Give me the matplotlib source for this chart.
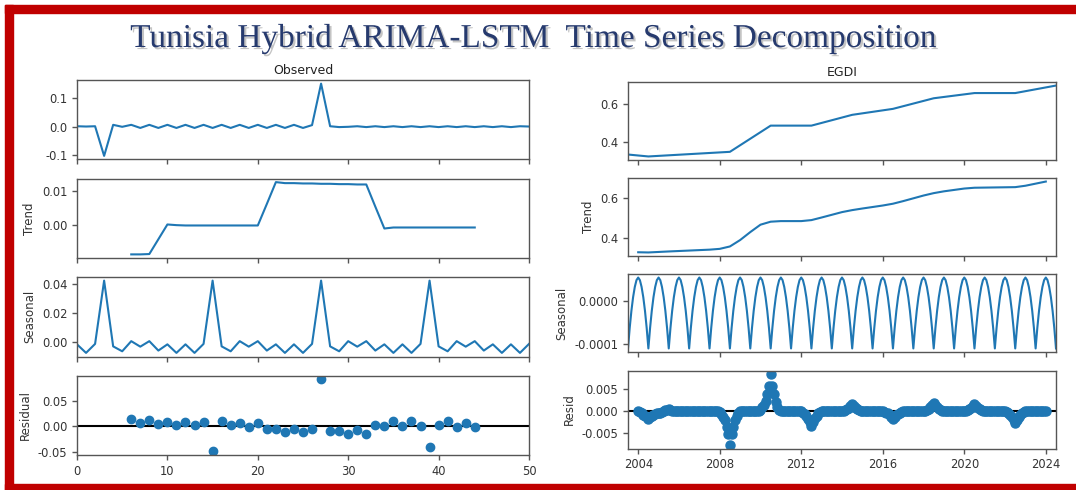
import numpy as np
import matplotlib.pyplot as plt
import matplotlib.patheffects as pe
from matplotlib.patches import Rectangle
from matplotlib.ticker import FormatStrFormatter

# ---- left: hybrid model residual series, integer index 0..50 ----
idx_l = np.arange(51)
observed_l = [0.001, 0.000, 0.001, -0.104, 0.006, -0.001, 0.006, -0.005, 0.006, -0.005,
              0.006, -0.005, 0.006, -0.005, 0.006, -0.005, 0.006, -0.005, 0.006, -0.005,
              0.006, -0.005, 0.006, -0.005, 0.006, -0.005, 0.005, 0.152, 0.001, -0.002,
              -0.001, 0.001, -0.002, 0.001, -0.002, 0.001, -0.002, 0.001, -0.002, 0.001,
              -0.002, 0.001, -0.002, 0.001, -0.002, 0.001, -0.002, 0.001, -0.002, 0.001,
              0.000]
trend_l = [np.nan] * 6 + [
    -0.0088, -0.0088, -0.0087, -0.0043, 0.0001, -0.0001, -0.0002, -0.0002, -0.0002, -0.0002,
    -0.0002, -0.0002, -0.0002, -0.0002, -0.0002, 0.0062, 0.0127, 0.0124, 0.0124, 0.0123,
    0.0123, 0.0122, 0.0122, 0.0121, 0.0121, 0.0120, 0.0120, 0.0054, -0.0011, -0.0008,
    -0.0008, -0.0008, -0.0008, -0.0008, -0.0008, -0.0008, -0.0008, -0.0008, -0.0008,
] + [np.nan] * 6
seasonal_cycle_l = [-0.0015, -0.0074, -0.0012, 0.0425, -0.0029, -0.0063,
                    0.0007, -0.0031, 0.0007, -0.0058, -0.0015, -0.0074]
resid_l = [np.nan] * 6 + [
    0.015, 0.006, 0.013, 0.004, 0.008, 0.002, 0.008, 0.002, 0.008, -0.049,
    0.010, 0.002, 0.006, -0.001, 0.006, -0.005, -0.005, -0.010, -0.005, -0.010,
    -0.005, 0.093, -0.009, -0.009, -0.014, -0.0065, -0.014, 0.003, 0.001, 0.010,
    0.001, 0.010, 0.000, -0.041, 0.002, 0.010, -0.001, 0.006, -0.001,
] + [np.nan] * 6
seasonal_l = np.resize(seasonal_cycle_l, len(idx_l))

# ---- right: monthly EGDI, Jul 2003 .. Jul 2024 ----
months_r = 2003.5 + np.arange(253) / 12
egdi_years = [2003.5, 2004.5, 2008.5, 2010.5, 2012.5, 2014.5, 2016.5, 2018.5, 2020.5, 2022.5, 2024.5]
egdi_values = [0.336, 0.326, 0.350, 0.486, 0.486, 0.542, 0.573, 0.628, 0.655, 0.655, 0.694]
trend_years = [2004.0, 2004.5, 2005.5, 2007.5, 2008.0, 2008.5, 2009.0, 2009.5, 2010.0, 2010.5,
               2011.0, 2012.0, 2012.5, 2013.0, 2014.0, 2014.5, 2015.0, 2016.0, 2016.5, 2017.0,
               2018.0, 2018.5, 2019.0, 2020.0, 2020.5, 2022.5, 2023.0, 2024.0]
trend_values = [0.329, 0.328, 0.333, 0.342, 0.346, 0.358, 0.390, 0.430, 0.467, 0.482,
                0.485, 0.485, 0.490, 0.503, 0.530, 0.540, 0.548, 0.563, 0.572, 0.585,
                0.613, 0.625, 0.634, 0.648, 0.652, 0.655, 0.662, 0.683]
# one seasonal year, July..June
seasonal_cycle_r = [-0.000110, -0.000062, -0.000022, 0.000010, 0.000034, 0.000050,
                    0.000056, 0.000050, 0.000034, 0.000010, -0.000022, -0.000062]
seasonal_r = np.resize(seasonal_cycle_r, len(months_r))

# residual is zero except around the survey years (Jan..Dec of each listed year)
resid_months = 2004 + np.arange(241) / 12
resid_event_years = [2004, 2005, 2008, 2010, 2012, 2014, 2016, 2018, 2020, 2022]
resid_event_shapes = [
    [0.0001, -0.0002, -0.0005, -0.0008, -0.0011, -0.0014, -0.0017, -0.0014, -0.0011, -0.0009, -0.0007, -0.0005],
    [-0.0004, -0.0003, -0.0001, 0.0000, 0.0002, 0.0004, 0.0005, 0.0003, 0.0001, 0.0, 0.0, 0.0],
    [-0.0002, -0.0006, -0.0012, -0.0020, -0.0035, -0.0053, -0.0077, -0.0053, -0.0035, -0.0020, -0.0010, -0.0003],
    [0.0004, 0.0009, 0.0015, 0.0024, 0.0040, 0.0058, 0.0085, 0.0058, 0.0040, 0.0021, 0.0009, 0.0002],
    [0.0, -0.0003, -0.0006, -0.0011, -0.0017, -0.0024, -0.0033, -0.0024, -0.0016, -0.0010, -0.0005, -0.0001],
    [0.0, 0.0001, 0.0003, 0.0005, 0.0008, 0.0012, 0.0016, 0.0012, 0.0008, 0.0005, 0.0002, 0.0],
    [0.0, -0.0001, -0.0003, -0.0005, -0.0008, -0.0012, -0.0017, -0.0013, -0.0009, -0.0006, -0.0003, -0.0001],
    [0.0, 0.0001, 0.0003, 0.0006, 0.0009, 0.0014, 0.0019, 0.0014, 0.0009, 0.0005, 0.0002, 0.0],
    [0.0, 0.0001, 0.0003, 0.0005, 0.0008, 0.0012, 0.0016, 0.0012, 0.0008, 0.0005, 0.0002, 0.0],
    [0.0, -0.0002, -0.0004, -0.0008, -0.0013, -0.0019, -0.0027, -0.0020, -0.0013, -0.0008, -0.0004, -0.0001],
]
resid_r = np.zeros(len(resid_months))
for yr, shape in zip(resid_event_years, resid_event_shapes):
    i0 = (yr - 2004) * 12
    resid_r[i0:i0 + 12] = shape

W, H = 1076, 490
BLUE = '#1f77b4'
plt.rcParams['font.family'] = 'DejaVu Sans'

fig = plt.figure(figsize=(W / 100, H / 100), dpi=100)


def px_box(left, top, width, height):
    return [left / W, 1 - (top + height) / H, width / W, height / H]


def style(ax):
    for s in ax.spines.values():
        s.set_color('#555555')
        s.set_linewidth(1.0)
    ax.tick_params(labelsize=8.3, colors='#555555', labelcolor='#333333', length=3.5, width=1.0)
    ax.yaxis.label.set_color('#333333')
    ax.yaxis.label.set_size(8.5)


# left column
left_tops = [80, 178.5, 277, 375.5]
axl = [fig.add_axes(px_box(77, t, 452, 79.5)) for t in left_tops]
axl[0].plot(idx_l, observed_l, color=BLUE, lw=1.5)
axl[1].plot(idx_l, trend_l, color=BLUE, lw=1.5)
axl[2].plot(idx_l, seasonal_l, color=BLUE, lw=1.5)
axl[3].plot(idx_l, resid_l, marker='o', linestyle='none', color=BLUE, ms=6)
axl[3].plot([0, 50], [0, 0], color='#000000', zorder=-3, lw=1.5)
axl[0].set_title('Observed', fontsize=9, color='#222222', pad=4)
axl[1].set_ylabel('Trend')
axl[2].set_ylabel('Seasonal')
axl[3].set_ylabel('Residual')
axl[0].set_yticks([-0.1, 0.0, 0.1])
axl[0].yaxis.set_major_formatter(FormatStrFormatter('%.1f'))
axl[1].set_yticks([0.0, 0.01])
axl[2].set_yticks([0.0, 0.02, 0.04])
axl[3].set_yticks([-0.05, 0.0, 0.05])
for a in axl[1:]:
    a.yaxis.set_major_formatter(FormatStrFormatter('%.2f'))
for i, a in enumerate(axl):
    a.set_xlim(0, 50)
    a.set_xticks(range(0, 51, 10))
    if i < 3:
        a.tick_params(labelbottom=False)
    style(a)

# right column
right_tops = [82, 178, 274, 370.5]
axr = [fig.add_axes(px_box(628, t, 428, 78)) for t in right_tops]
axr[0].plot(egdi_years, egdi_values, color=BLUE, lw=1.5)
axr[1].plot(trend_years, trend_values, color=BLUE, lw=1.5)
axr[2].plot(months_r, seasonal_r, color=BLUE, lw=1.5)
axr[3].plot(resid_months, resid_r, marker='o', linestyle='none', color=BLUE, ms=6.5)
axr[3].plot([2003.5, 2024.5], [0, 0], color='#000000', zorder=-3, lw=1.5)
axr[0].set_title('EGDI', fontsize=9, color='#222222', pad=4)
axr[1].set_ylabel('Trend')
axr[2].set_ylabel('Seasonal')
axr[3].set_ylabel('Resid')
axr[0].set_yticks([0.4, 0.6])
axr[1].set_yticks([0.4, 0.6])
axr[0].yaxis.set_major_formatter(FormatStrFormatter('%.1f'))
axr[1].yaxis.set_major_formatter(FormatStrFormatter('%.1f'))
axr[2].set_yticks([-0.0001, 0.0])
axr[2].yaxis.set_major_formatter(FormatStrFormatter('%.4f'))
axr[3].set_yticks([-0.005, 0.0, 0.005])
axr[3].yaxis.set_major_formatter(FormatStrFormatter('%.3f'))
for i, a in enumerate(axr):
    a.set_xlim(2003.5, 2024.5)
    a.set_xticks(range(2004, 2025, 4))
    a.xaxis.set_major_formatter(FormatStrFormatter('%d'))
    if i < 3:
        a.tick_params(labelbottom=False)
    style(a)

# main heading
fig.text(534 / W, 1 - 47 / H, 'Tunisia Hybrid ARIMA-LSTM  Time Series Decomposition',
         ha='center', va='baseline', fontsize=24, family='Liberation Serif', color='#263a6e',
         path_effects=[pe.withSimplePatchShadow(offset=(1.5, -1.5), shadow_rgbFace='#8a8a8a', alpha=0.5)])

# red frame (open on the right)
RED = '#c00000'
fig.patches.append(Rectangle((5 / W, 1 - 13 / H), 1 - 5 / W, 8 / H, transform=fig.transFigure, color=RED, zorder=5))
fig.patches.append(Rectangle((5 / W, 0), 8 / W, 1 - 5 / H, transform=fig.transFigure, color=RED, zorder=5))
fig.patches.append(Rectangle((5 / W, 0), 1 - 5 / W, 6 / H, transform=fig.transFigure, color=RED, zorder=5))

fig.savefig('out.png', dpi=100)
